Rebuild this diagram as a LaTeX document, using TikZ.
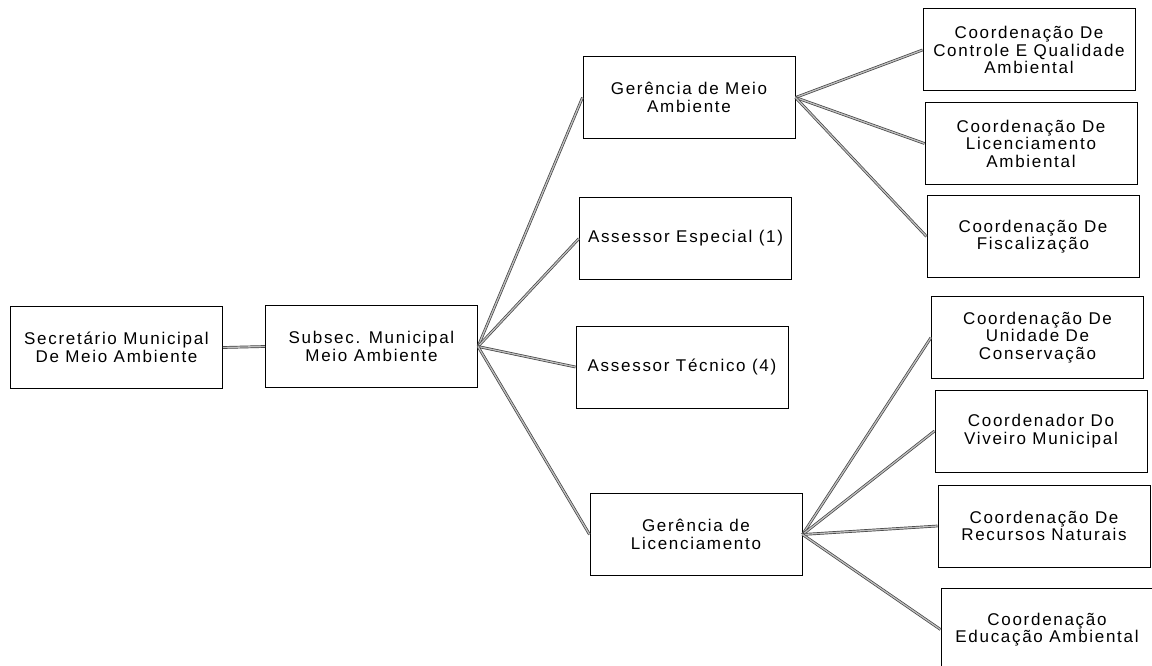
\documentclass[tikz,border=0pt]{standalone}
\usepackage{fontspec}
\setmainfont{Liberation Sans}[LetterSpace=10]
\begin{document}
\begin{tikzpicture}[x=1pt,y=-1pt,
    box/.style={draw,line width=1pt,minimum width=212pt,minimum height=82pt,inner sep=1pt,align=center,font=\fontsize{17}{17.5}\selectfont},
    link/.style={draw=black!75,line width=0.7pt,double=black!25,double distance=1.3pt}]
        \useasboundingbox (0,0) rectangle (1152,666);
        %% first two levels
        \node[box] (sec) at (116.5,347.5) {Secretário Municipal\\De Meio Ambiente};
        \node[box] (sub) at (371.5,346.5) {Subsec. Municipal\\Meio Ambiente};
        %% gerências and assessores
        \node[box] (gma) at (689,97.5) {Gerência de Meio\\Ambiente};
        \node[box] (aesp) at (685.5,238.5) {Assessor Especial (1)};
        \node[box] (atec) at (682,367) {Assessor Técnico (4)};
        \node[box] (glic) at (696,534.5) {Gerência de\\Licenciamento};
        %% coordenações under meio ambiente
        \node[box] (cqual) at (1029,50) {Coordenação De\\Controle E Qualidade\\Ambiental};
        \node[box] (clic) at (1031,143.5) {Coordenação De\\Licenciamento\\Ambiental};
        \node[box] (cfis) at (1033,236.5) {Coordenação De\\Fiscalização};
        %% coordenações under licenciamento
        \node[box] (cuni) at (1037.5,337.5) {Coordenação De\\Unidade De\\Conservação};
        \node[box] (cviv) at (1041,431) {Coordenador Do\\Viveiro Municipal};
        \node[box] (crec) at (1044,526) {Coordenação De\\Recursos Naturais};
        \node[box] (cedu) at (1047,629.5) {Coordenação\\Educação Ambiental};
        %% links
        \draw[link] (sec.east) -- (sub.west);
        \foreach \t in {gma,aesp,atec,glic} \draw[link] (sub.east) -- (\t.west);
        \foreach \t in {cqual,clic,cfis} \draw[link] (gma.east) -- (\t.west);
        \foreach \t in {cuni,cviv,crec,cedu} \draw[link] (glic.east) -- (\t.west);
    \end{tikzpicture}
\end{document}
